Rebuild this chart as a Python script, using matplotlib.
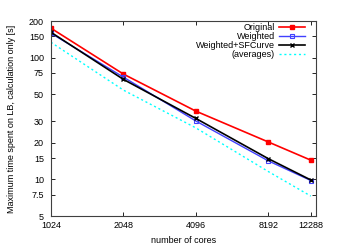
import matplotlib
matplotlib.use('Agg')
import matplotlib.pyplot as plt
from matplotlib.ticker import FixedLocator, NullLocator, NullFormatter

plt.rcParams['font.family'] = ['Liberation Sans', 'DejaVu Sans']
plt.rcParams['font.size'] = 6.5

cores = [1024, 2048, 4096, 8192, 12288]
xticklabels = ['1024', '2048', '4096', '8192', '12288']
original = [175, 73.4, 36.4, 20.3, 14.4]
weighted = [159, 69.3, 30.2, 14.2, 9.8]
sfcurve = [162, 66.4, 31.7, 14.8, 9.9]
averages = [134, 54.2, 26.5, 11.6, 7.3]
yticks = [5, 7.5, 10, 15, 20, 30, 50, 75, 100, 150, 200]
yticklabels = ['5', '7.5', '10', '15', '20', '30', '50', '75', '100', '150', '200']

fig = plt.figure(figsize=(3.46, 2.45), dpi=100)
ax = fig.add_axes([0.147, 0.118, 0.766, 0.796])

ax.plot(cores, original, color='red', lw=1.2, marker='s', ms=3.5, label='Original')
ax.plot(cores, weighted, color='#4040ff', lw=1.0, marker='s', ms=2.8, mfc='none', mew=0.8, label='Weighted')
ax.plot(cores, sfcurve, color='black', lw=1.2, marker='x', ms=3, mew=1.0, label='Weighted+SFCurve')
ax.plot(cores, averages, color='cyan', lw=1.0, ls=(0, (1.5, 2)), label='(averages)')

ax.set_xscale('log')
ax.set_yscale('log')
ax.set_xlim(1024, 12900)
ax.set_ylim(5, 200)
ax.xaxis.set_major_locator(FixedLocator(cores))
ax.set_xticklabels(xticklabels)
ax.xaxis.set_minor_locator(NullLocator())
ax.yaxis.set_major_locator(FixedLocator(yticks))
ax.set_yticklabels(yticklabels)
ax.yaxis.set_minor_locator(NullLocator())
ax.yaxis.set_minor_formatter(NullFormatter())
ax.tick_params(direction='in', length=3, width=0.6, top=True, right=True)
ax.tick_params(axis='x', pad=3.5)
ax.tick_params(axis='y', pad=5)
for s in ax.spines.values():
    s.set_linewidth(0.8)
    s.set_color('#404040')

ax.set_xlabel('number of cores', labelpad=4)
ax.set_ylabel('Maximum time spent on LB, calculation only [s]', labelpad=9)

leg = ax.legend(loc='upper right', bbox_to_anchor=(0.958, 0.99), frameon=False,
                markerfirst=False, handlelength=2.8, handletextpad=0.5,
                labelspacing=0.0, borderaxespad=0.0, borderpad=0.0)
for t in leg.get_texts():
    t.set_ha('right')
leg._legend_box.align = 'right'

plt.savefig('out.png', dpi=100)
